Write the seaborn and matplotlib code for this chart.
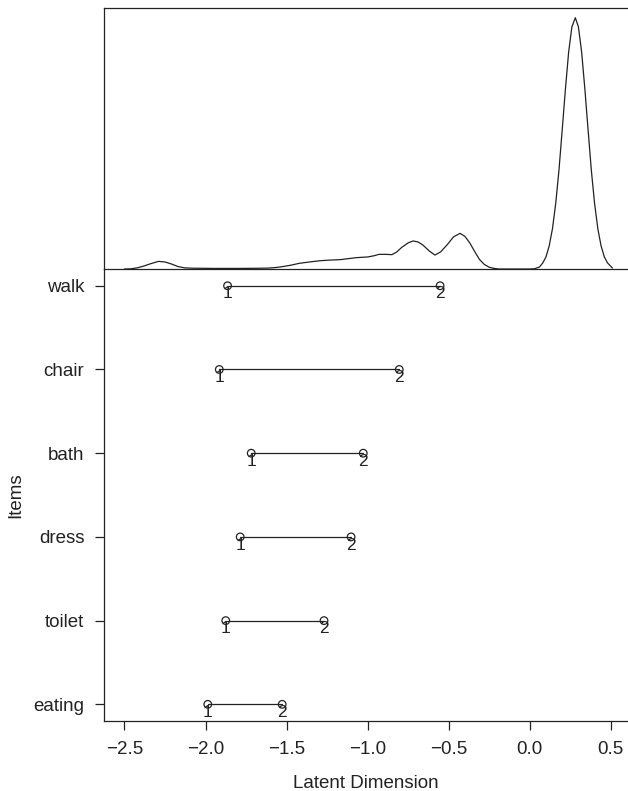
import numpy as np
import pandas as pd
import matplotlib
matplotlib.use("Agg")
import matplotlib.pyplot as plt
import seaborn as sns

# item thresholds
items = ["eating", "toilet", "dress", "bath", "chair", "walk"]
thresh1 = [-1.986, -1.875, -1.786, -1.718, -1.915, -1.864]
thresh2 = [-1.527, -1.269, -1.102, -1.027, -0.805, -0.553]

# person density curve
dens_x = [-2.50, -2.46, -2.42, -2.38, -2.34, -2.29, -2.25, -2.21, -2.17, -2.13,
          -2.08, -1.95, -1.80, -1.70, -1.62, -1.58, -1.54, -1.48, -1.42, -1.35,
          -1.29, -1.23, -1.17, -1.12, -1.07, -1.00, -0.96, -0.93, -0.89, -0.85,
          -0.82, -0.79, -0.75, -0.72, -0.69, -0.66, -0.62, -0.585, -0.55, -0.51,
          -0.47, -0.43, -0.40, -0.37, -0.34, -0.31, -0.28, -0.25, -0.22, -0.19,
          0.00, 0.03, 0.06, 0.08, 0.10, 0.12, 0.14, 0.16, 0.18, 0.20,
          0.22, 0.24, 0.26, 0.281, 0.30, 0.32, 0.34, 0.36, 0.38, 0.40,
          0.42, 0.44, 0.46, 0.48, 0.51]
dens_y = [0.000, 0.002, 0.012, 0.030, 0.052, 0.076, 0.070, 0.050, 0.025, 0.012,
          0.008, 0.006, 0.006, 0.007, 0.009, 0.013, 0.020, 0.036, 0.057, 0.072,
          0.083, 0.089, 0.093, 0.103, 0.113, 0.120, 0.132, 0.146, 0.146, 0.143,
          0.170, 0.215, 0.260, 0.279, 0.270, 0.240, 0.180, 0.139, 0.170, 0.240,
          0.320, 0.355, 0.325, 0.260, 0.175, 0.095, 0.045, 0.018, 0.006, 0.000,
          0.000, 0.003, 0.020, 0.060, 0.120, 0.230, 0.400, 0.650, 0.980, 1.380,
          1.790, 2.160, 2.410, 2.500, 2.410, 2.160, 1.790, 1.380, 0.980, 0.650,
          0.400, 0.230, 0.120, 0.060, 0.010]

sns.set_style("ticks")
plt.rcParams["font.family"] = ["Liberation Sans", "DejaVu Sans"]
plt.rcParams["axes.edgecolor"] = "#222222"
plt.rcParams["axes.linewidth"] = 0.9

fs = 13.5
line_col = "#222222"

fig = plt.figure(figsize=(6.28, 7.91), dpi=100)
ax_bot = fig.add_axes([0.1664, 0.0884, 0.8336, 0.5715])
ax_top = fig.add_axes([0.1664, 0.6599, 0.8336, 0.3304])
ax_top.patch.set_visible(False)
ax_bot.patch.set_visible(False)

xlim = (-2.623, 0.606)

# density panel
sns.lineplot(x=dens_x, y=dens_y, ax=ax_top, color=line_col, linewidth=0.9, sort=False)
ax_top.set_xlim(*xlim)
ax_top.set_ylim(0, 2.6)
ax_top.set_xticks([])
ax_top.set_yticks([])
ax_top.spines["right"].set_visible(False)

# item panel
rows = []
for i, it in enumerate(items):
    rows.append({"item": it, "pos": i + 1, "theta": thresh1[i], "step": "1"})
    rows.append({"item": it, "pos": i + 1, "theta": thresh2[i], "step": "2"})
df = pd.DataFrame(rows)

sns.lineplot(data=df, x="theta", y="pos", units="item", estimator=None,
             color=line_col, linewidth=0.9, sort=False, ax=ax_bot)
sns.scatterplot(data=df, x="theta", y="pos", marker="o", s=30,
                facecolor="none", edgecolor=line_col, linewidth=0.9, ax=ax_bot)
for _, r in df.iterrows():
    ax_bot.annotate(r["step"], (r["theta"], r["pos"]), xytext=(0, -0.5),
                    textcoords="offset points", ha="center", va="top",
                    fontsize=12.5, color=line_col)

ax_bot.set_xlim(*xlim)
ax_bot.set_ylim(0.8, 6.2)
ax_bot.set_yticks(range(1, 7), items)
ax_bot.set_xticks([-2.5, -2.0, -1.5, -1.0, -0.5, 0.0, 0.5])
ax_bot.set_xticklabels(["\u22122.5", "\u22122.0", "\u22121.5", "\u22121.0", "\u22120.5", "0.0", "0.5"])
ax_bot.tick_params(axis="both", length=6.5, width=0.9, pad=8, labelsize=fs, colors=line_col)
ax_bot.spines["right"].set_visible(False)
ax_bot.spines["top"].set_visible(False)

ax_bot.set_xlabel("Latent Dimension", fontsize=fs, color=line_col, va="center")
ax_bot.xaxis.set_label_coords(0.5, -0.137)
ax_bot.set_ylabel("Items", fontsize=fs, color=line_col, va="center")
ax_bot.yaxis.set_label_coords(-0.1696, 0.5)

fig.savefig("out.png", dpi=100)
